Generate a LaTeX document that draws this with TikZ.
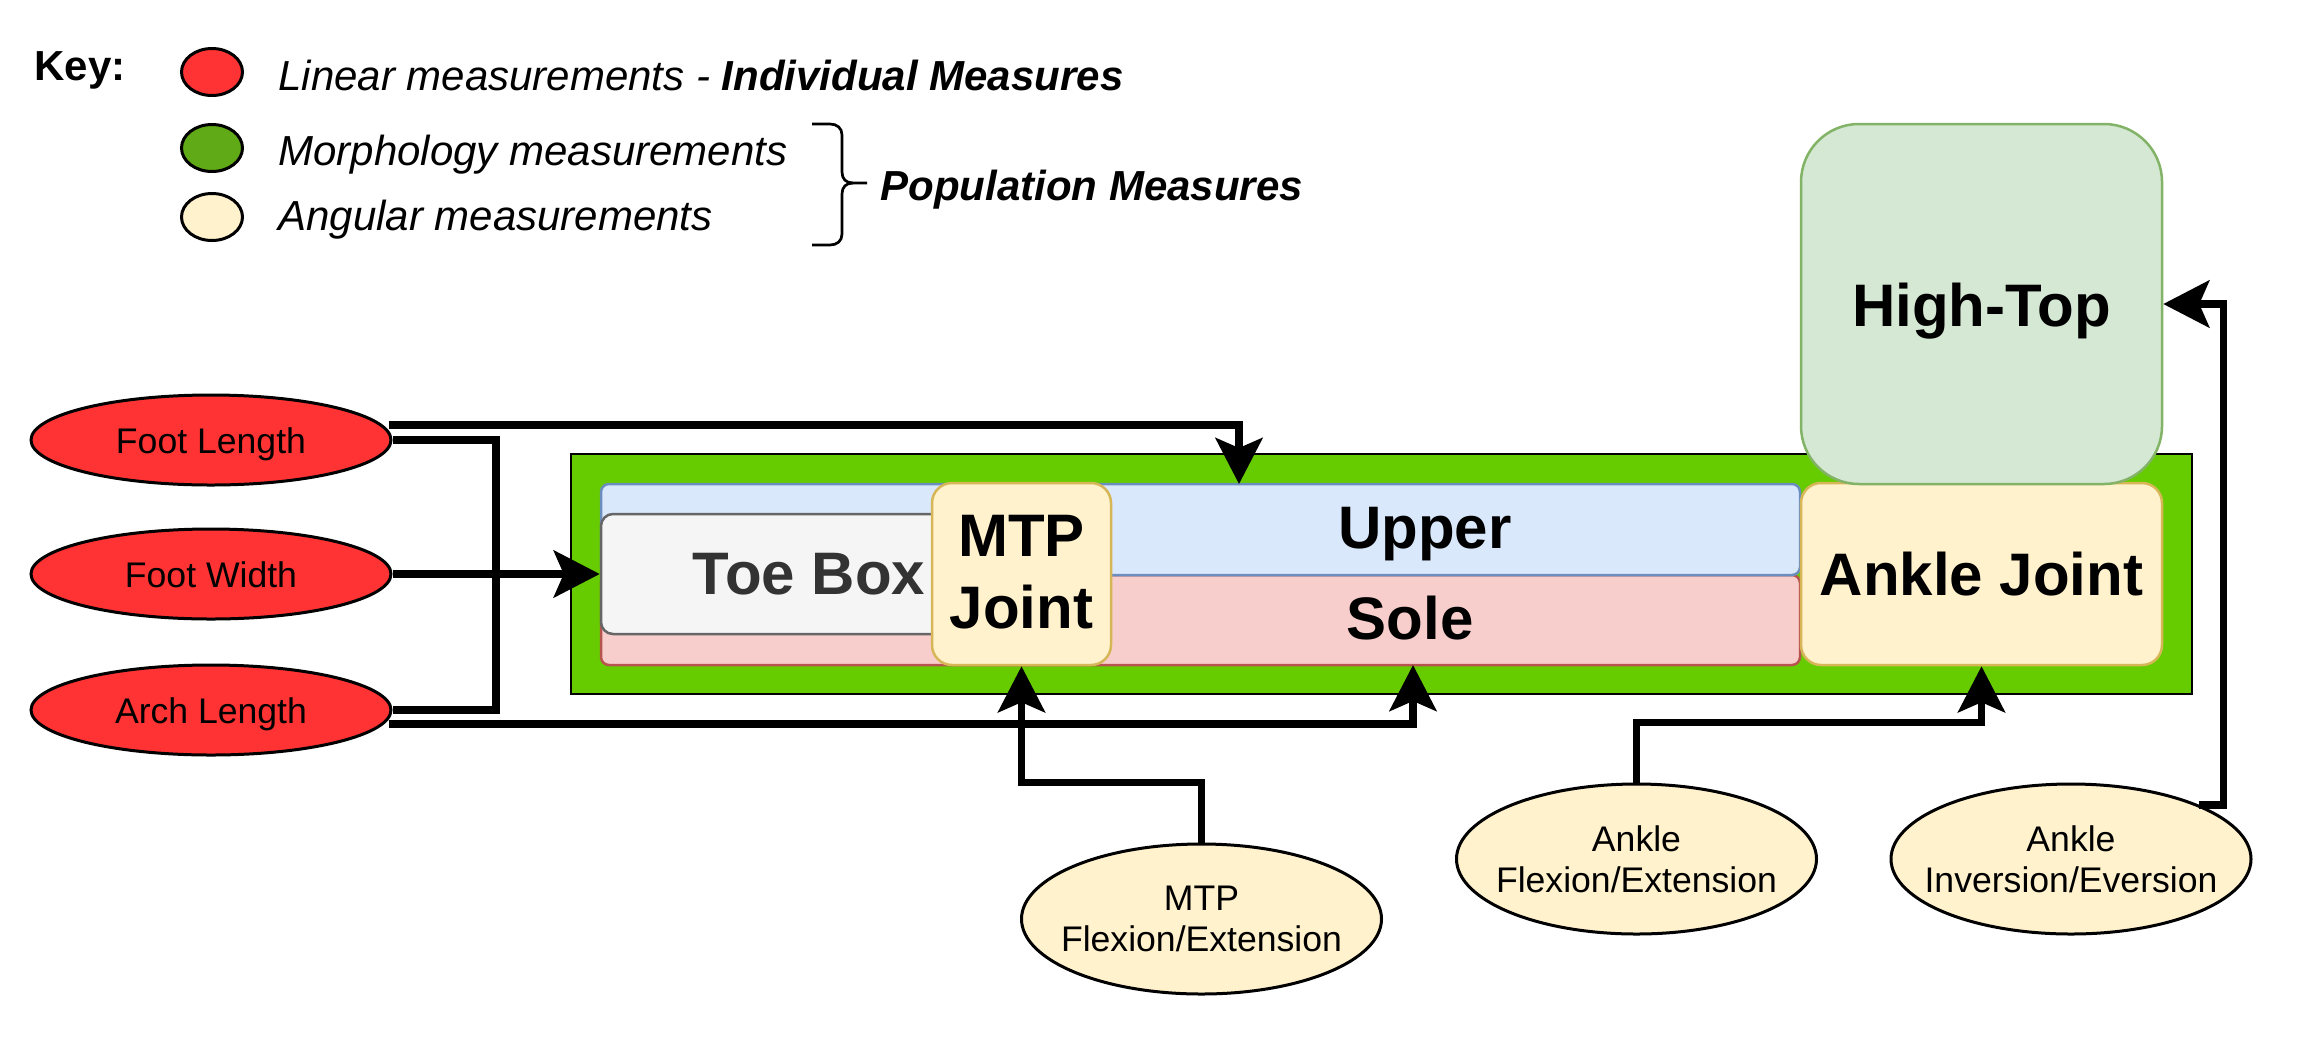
\documentclass[tikz,border=0pt]{standalone}
\usepackage{fontspec}
\setmainfont{Liberation Sans}
\usetikzlibrary{arrows.meta,shapes.geometric,calc}
\definecolor{redF}{HTML}{FF3333}
\definecolor{greenK}{HTML}{60A917}
\definecolor{greenC}{HTML}{66CC00}
\definecolor{yelF}{HTML}{FFF2CC}
\definecolor{yelS}{HTML}{D6B656}
\definecolor{bluF}{HTML}{DAE8FC}
\definecolor{bluS}{HTML}{6C8EBF}
\definecolor{redSF}{HTML}{F8CECC}
\definecolor{redSS}{HTML}{B85450}
\definecolor{grF}{HTML}{F5F5F5}
\definecolor{grS}{HTML}{666666}
\definecolor{grT}{HTML}{333333}
\definecolor{htF}{HTML}{D5E8D4}
\definecolor{htS}{HTML}{82B366}
\tikzset{
 conn/.style={line width=3.75pt, draw=black},
 arr/.style={-{Stealth[length=23pt,width=23.5pt,inset=5pt]}},
 keyt/.style={font=\fontsize{21pt}{25pt}\selectfont\itshape, anchor=base west, inner sep=0pt},
 etxt/.style={font=\fontsize{17.8pt}{20.5pt}\selectfont, align=center, inner sep=0pt},
 stxt/.style={font=\fontsize{17.8pt}{20.5pt}\selectfont, anchor=base, inner sep=0pt},
 btxt/.style={font=\fontsize{30pt}{36pt}\selectfont\bfseries, inner sep=0pt},
 ell/.style={ellipse, draw=black, line width=1.5pt, inner sep=0pt},
 box/.style={rectangle, line width=1.25pt, inner sep=0pt},
}
\begin{document}
\begin{tikzpicture}[x=0.5pt,y=-0.5pt]
\useasboundingbox (0,0) rectangle (2313,1056);
% ---------- legend ----------
\node[font=\fontsize{21pt}{25pt}\selectfont\bfseries, anchor=base west, inner sep=0pt] (key) at (34,80) {Key:};
\node[ell, fill=redF, minimum width=30.5pt, minimum height=23.5pt] (kred) at (212,72) {};
\node[ell, fill=greenK, minimum width=30.5pt, minimum height=23.5pt] (kgreen) at (212,148) {};
\node[ell, fill=yelF, minimum width=30.5pt, minimum height=23.5pt] (kyel) at (212,217) {};
\node[keyt] (tlin) at (278,90) {Linear measurements - \textbf{Individual Measures}};
\node[keyt] (tmor) at (278,165) {Morphology measurements};
\node[keyt] (tang) at (278,230) {Angular measurements};
\draw[line width=1.35pt] (812,124) -- (830,124) .. controls (837,124) and (842,128) .. (842,135) -- (842,172) .. controls (842,179) and (846,183) .. (853,183) -- (867,183);
\draw[line width=1.35pt] (853,183) .. controls (846,183) and (842,187) .. (842,194) -- (842,234) .. controls (842,241) and (837,245) .. (830,245) -- (812,245);
\node[keyt, font=\fontsize{21pt}{25pt}\selectfont\bfseries\itshape] (tpop) at (880,200) {Population Measures};
% ---------- shoe ----------
\node[box, draw=black, line width=1.4pt, fill=greenC, minimum width=810.5pt, minimum height=120pt] (cont) at (1381.5,574) {};
\node[box, draw=redSS, fill=redSF, rounded corners=4pt, minimum width=599.5pt, minimum height=45pt] (sole) at (1200.5,620) {};
\node[box, draw=bluS, fill=bluF, rounded corners=4pt, minimum width=599.5pt, minimum height=45.5pt] (upper) at (1200.5,529.5) {};
\node[box, draw=grS, fill=grF, rounded corners=6pt, minimum width=208pt, minimum height=60pt] (toe) at (809,574) {};
\node[box, draw=yelS, fill=yelF, rounded corners=10pt, minimum width=89.5pt, minimum height=91pt] (mtp) at (1021.5,574) {};
\node[box, draw=yelS, fill=yelF, rounded corners=10pt, minimum width=180.5pt, minimum height=91pt] (ankle) at (1981.5,574) {};
\node[box, draw=htS, fill=htF, rounded corners=29pt, minimum width=180.5pt, minimum height=180pt] (ht) at (1981.5,304) {};
\node[btxt, anchor=base] (lup) at (1425,548) {Upper};
\node[btxt, anchor=base] (lsole) at (1410,639) {Sole};
\node[btxt, anchor=base, text=grT] (ltoe) at (809,594) {Toe Box};
\node[btxt, align=center] (lmtp) at (1021.5,572) {MTP\\Joint};
\node[btxt, anchor=base] (lank) at (1981.5,595) {Ankle Joint};
\node[btxt, anchor=base] (lht) at (1981.5,326) {High-Top};
% ---------- measurement ellipses ----------
\node[ell, fill=redF, minimum width=180pt, minimum height=45pt] (fl) at (211,440) {};
\node[ell, fill=redF, minimum width=180pt, minimum height=45pt] (fw) at (211,574) {};
\node[ell, fill=redF, minimum width=180pt, minimum height=45pt] (al) at (211,710) {};
\node[stxt] (flT) at (211,453) {Foot Length};
\node[stxt] (fwT) at (211,587) {Foot Width};
\node[stxt] (alT) at (211,723) {Arch Length};
\node[ell, fill=yelF, minimum width=180pt, minimum height=75pt] (mf) at (1201.5,919) {};
\node[ell, fill=yelF, minimum width=180pt, minimum height=75pt] (af) at (1636.5,859) {};
\node[ell, fill=yelF, minimum width=180pt, minimum height=75pt] (inv) at (2071,859) {};
\node[etxt] (mfT) at (mf.center) {MTP\\Flexion/Extension};
\node[etxt] (afT) at (af.center) {Ankle\\Flexion/Extension};
\node[etxt] (invT) at (inv.center) {Ankle\\Inversion/Eversion};
% ---------- connectors ----------
\coordinate (j) at (496,574);
\coordinate (upIn) at (1239,484);
\coordinate (soIn) at (1413,665);
\draw[conn] (fl.east) -| (j) |- (al.east);
\draw[conn,arr] (fw.east) -- (toe.west);
\draw[conn,arr] ($(fl.east)+(-4,-15)$) -| (upIn);
\draw[conn,arr] ($(al.east)+(-4,14)$) -| (soIn);
\draw[conn,arr] (mf.north) -- ++(0,-60) -| (mtp.south);
\draw[conn,arr] (af.north) -- ++(0,-60) -| (ankle.south);
\draw[conn,arr] (inv.north east) -- ++(24,0) |- (ht.east);
\end{tikzpicture}
\end{document}
